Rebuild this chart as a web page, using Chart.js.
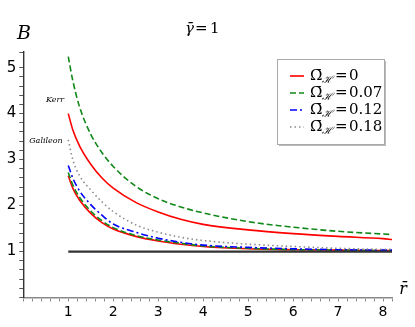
<!DOCTYPE html>
<html>
<head>
<meta charset="utf-8">
<script src="https://cdn.jsdelivr.net/npm/chart.js@4/dist/chart.umd.min.js"></script>
<style>
  html, body { margin: 0; padding: 0; background: #fff; }
  #wrap { width: 415px; height: 327px; position: relative; }
</style>
</head>
<body>
<div id="wrap"><canvas id="c"></canvas></div>
<script>
// radial coordinate samples (r bar)
const R = [1, 1.1, 1.25, 1.5, 1.75, 2, 2.5, 3, 3.5, 4, 5, 6, 7, 8, 8.2];

// Kerr branch
const kerrOmega0   = [4.0, 3.65, 3.3, 2.9, 2.6, 2.38, 2.07, 1.86, 1.70, 1.59, 1.47, 1.39, 1.33, 1.28, 1.26];
const kerrOmega007 = [5.24, 4.72, 4.15, 3.55, 3.15, 2.85, 2.42, 2.15, 1.97, 1.84, 1.65, 1.53, 1.44, 1.38, 1.37];

// Galileon branch
const galOmega0   = [2.65, 2.38, 2.12, 1.83, 1.63, 1.49, 1.33, 1.23, 1.16, 1.11, 1.06, 1.04, 1.03, 1.02, 1.02];
const galOmega007 = [2.72, 2.45, 2.18, 1.88, 1.67, 1.52, 1.35, 1.25, 1.18, 1.12, 1.07, 1.04, 1.03, 1.02, 1.02];
const galOmega012 = [2.87, 2.6, 2.32, 2.02, 1.79, 1.60, 1.42, 1.29, 1.20, 1.14, 1.09, 1.06, 1.04, 1.03, 1.03];
const galOmega018 = [3.43, 3.0, 2.65, 2.34, 2.08, 1.87, 1.58, 1.42, 1.31, 1.24, 1.16, 1.11, 1.07, 1.05, 1.05];

// flat reference line B = 1
const flatR = [1, 8.2];
const flatB = [1, 1];

const legendLabels = ['0', '0.07', '0.12', '0.18'];

const STYLE = {
  red:   { color: '#ff0000', dash: [] },
  green: { color: '#11881a', dash: [6, 3] },
  blue:  { color: '#0000ff', dash: [7, 3, 2, 3] },
  gray:  { color: '#8c8c8c', dash: [1.5, 3] },
};

function pts(xs, ys) {
  return xs.map((x, i) => ({ x, y: ys[i] }));
}

function curve(ys, st) {
  return {
    data: pts(R, ys), borderColor: st.color, borderDash: st.dash,
    borderWidth: 1.6, pointRadius: 0, fill: false,
    cubicInterpolationMode: 'monotone',
  };
}

const datasets = [
  { data: pts(flatR, flatB), borderColor: '#333', borderWidth: 2.2, pointRadius: 0, fill: false },
  curve(galOmega018, STYLE.gray),
  curve(galOmega012, STYLE.blue),
  curve(galOmega007, STYLE.green),
  curve(galOmega0, STYLE.red),
  curve(kerrOmega0, STYLE.red),
  curve(kerrOmega007, STYLE.green),
];

const isInt = v => Math.abs(v - Math.round(v)) < 1e-6;

const textPlugin = {
  id: 'texts',
  afterDraw(chart) {
    const ctx = chart.ctx;
    ctx.save();
    ctx.fillStyle = '#000';
    ctx.textBaseline = 'middle';
    ctx.textAlign = 'left';

    // title
    ctx.font = 'italic 15px "DejaVu Serif"';
    ctx.fillText('\u03B3\u0304', 185, 29);
    ctx.font = '15px "DejaVu Serif"';
    ctx.fillText('=', 195, 29);
    ctx.fillText('1', 210, 29);

    // axis names
    ctx.textAlign = 'center';
    ctx.font = 'italic 19px "DejaVu Serif"';
    ctx.fillText('B', 24, 34);
    ctx.font = 'italic 16px "DejaVu Serif"';
    ctx.fillText('r\u0304', 403, 290);

    // branch annotations
    ctx.font = 'italic 8px "DejaVu Serif"';
    ctx.fillText('Kerr', 55, 100);
    ctx.fillText('Galileon', 46, 141);

    // legend box with shadow
    const bx = 277, by = 59, bw = 107, bh = 85;
    ctx.fillStyle = '#bbb';
    ctx.fillRect(bx + 2, by + 2, bw, bh);
    ctx.fillStyle = '#fff';
    ctx.fillRect(bx, by, bw, bh);
    ctx.strokeStyle = '#aaa';
    ctx.lineWidth = 1;
    ctx.strokeRect(bx + 0.5, by + 0.5, bw, bh);

    const rows = [STYLE.red, STYLE.green, STYLE.blue, STYLE.gray];
    rows.forEach((st, i) => {
      const y = 76 + i * 17;
      ctx.strokeStyle = st.color;
      ctx.lineWidth = 1.6;
      ctx.setLineDash(st.dash);
      ctx.beginPath();
      ctx.moveTo(290, y);
      ctx.lineTo(304, y);
      ctx.stroke();
      ctx.setLineDash([]);

      ctx.fillStyle = '#000';
      ctx.textAlign = 'left';
      ctx.font = '15px "DejaVu Serif"';
      ctx.fillText('\u03A9\u0304', 310, y);
      ctx.font = 'italic 10px "DejaVu Serif"';
      ctx.fillText('\u210B', 322, y + 4);
      ctx.font = '15px "DejaVu Serif"';
      ctx.fillText('=', 335, y);
      ctx.fillText(legendLabels[i], 349, y);
    });
    ctx.restore();
  },
};

new Chart(document.getElementById('c'), {
  type: 'line',
  data: { datasets },
  options: {
    responsive: true, maintainAspectRatio: false, animation: false,
    layout: { padding: { top: 52, right: 23, left: 0, bottom: 0 } },
    plugins: { legend: { display: false }, title: { display: false }, tooltip: { enabled: false } },
    scales: {
      x: {
        type: 'linear', min: 0, max: 8.2,
        afterFit(scale) { scale.height = 29.5; },
        border: { color: '#8a8a8a', width: 1.6 },
        grid: { drawOnChartArea: false, drawTicks: true, tickLength: 4, tickColor: '#8a8a8a' },
        ticks: {
          stepSize: 0.2, autoSkip: false, maxRotation: 0, padding: 2,
          color: '#000', font: { family: 'DejaVu Sans', size: 14 },
          callback: v => (isInt(v) && v > 0 ? String(Math.round(v)) : ''),
        },
      },
      y: {
        type: 'linear', min: 0, max: 5.34,
        afterFit(scale) { scale.width = 23.3; },
        border: { color: '#333', width: 1.4 },
        grid: { drawOnChartArea: false, drawTicks: true, tickLength: 4, tickColor: '#555' },
        ticks: {
          stepSize: 0.2, autoSkip: false, padding: 3,
          color: '#000', font: { family: 'DejaVu Sans', size: 15 },
          callback: v => (isInt(v) && v > 0 ? String(Math.round(v)) : ''),
        },
      },
    },
  },
  plugins: [textPlugin],
});
</script>
</body>
</html>
